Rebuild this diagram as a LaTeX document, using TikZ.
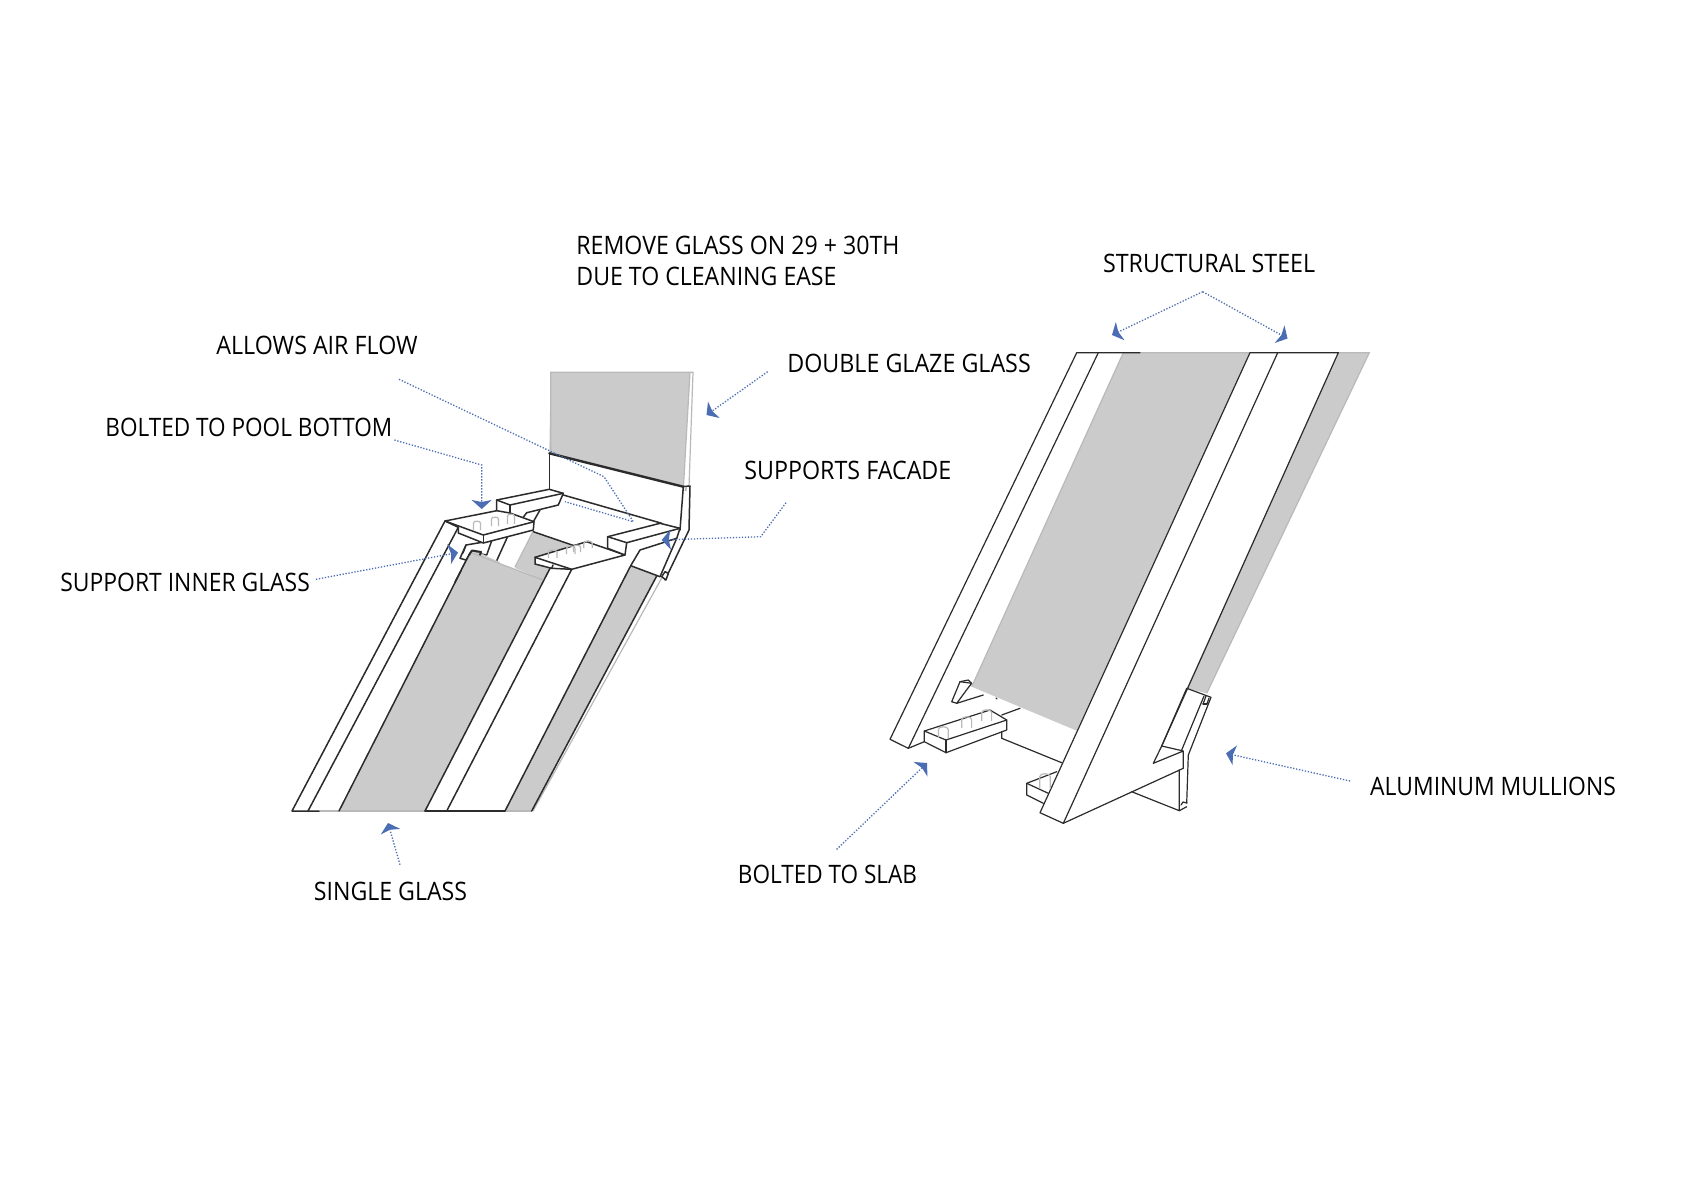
\documentclass[tikz,border=0pt]{standalone}
\usepackage{fontspec}
\usepackage{graphicx}
\setmainfont{Open Sans}[FakeStretch=0.925]
\usetikzlibrary{arrows.meta}
\definecolor{ink}{HTML}{2B2B2B}
\definecolor{glass}{HTML}{CCCBCB}
\definecolor{edge}{HTML}{B9B9B9}
\definecolor{lead}{HTML}{4A6DB3}
\tikzset{
  lab/.style={anchor=base west,inner sep=0pt,font=\fontsize{12.7}{14}\selectfont,text=black},
  ln/.style={draw=ink,line width=0.75pt,line join=round,line cap=round},
  lnr/.style={draw=ink,line width=0.6pt,line join=round,line cap=round},
  blk/.style={ln,fill=white},
  blkr/.style={lnr,fill=white},
  gl/.style={fill=glass,draw=none},
  lite/.style={draw=edge,line width=0.6pt},
  pegl/.style={draw=edge,line width=0.6pt},
  leader/.style={draw=lead,line width=0.65pt,dash pattern=on 0.65pt off 0.85pt,
    -{Stealth[length=4.5pt,width=10pt,inset=1pt,fill=lead,sep=0pt]}},
  leaderplain/.style={draw=lead,line width=0.65pt,dash pattern=on 0.65pt off 0.85pt},
}
\newcommand{\pegat}[4][1]{\draw[pegl,shift={(#2,#3)},scale=#1] (-3.5,#4) -- (-3.5,1) .. controls (-3.5,-1.5) and (3.5,-1.5) .. (3.5,1) -- (3.5,#4);}
\newcommand{\sx}[2]{\scalebox{#1}[1]{#2}}
\begin{document}
\begin{tikzpicture}[x=0.5pt,y=-0.5pt]
\path[fill=white] (0,0) rectangle (1697,1200);
\useasboundingbox (0,0) rectangle (1697,1200);

%%% LEFT DIAGRAM
% glass
\path[gl] (339,811) -- (425,811) -- (543,580) -- (471.7,553) -- (469,555) -- cycle;
\path[gl] (505,811) -- (531.7,811) -- (656.7,576) -- (630,566) -- cycle;
\path[gl] (515,568) -- (533.3,531.7) -- (575,546) -- (535,557) -- (535,564) -- (551.7,568) -- (543,580) -- cycle;
\path[gl] (550.7,372.3) -- (690,372.3) -- (683.3,486.7) -- (549.3,453.3) -- cycle;
% light glass edges
\draw[lite] (550.7,453) -- (550.7,372.3) -- (693,372.3) -- (689,487);
\draw[lite] (690,372.3) -- (683.5,486);
\draw[lite] (533,811) -- (661.7,578);
\draw[lite] (319,811) -- (339,811);
\draw[lite] (515,567) -- (533.3,531);
\draw[lite] (425,811) -- (339,811);
\draw[lite] (505,811) -- (531.7,811);
% long members
\draw[ln] (319,811) -- (292,811) -- (445,521);
\draw[ln] (308,811) -- (458.3,527.3);
\draw[ln] (339,811) -- (469,555);
\draw[ln] (425,811) -- (551.7,565);
\draw[ln] (505,811) -- (425,811);
\draw[ln] (446.7,811) -- (571.7,569.3);
\draw[ln] (505,811) -- (630.7,565.7);
\draw[ln] (531.7,811) -- (656.7,576);
\draw[ln] (496.7,560.7) -- (508.3,535);
% back wall
\draw[ln,line width=1.2pt] (549.3,453.3) -- (683.3,486.7);
\draw[ln] (549.3,453.3) -- (549.3,489.3);
\draw[ln] (563.3,495) -- (661.7,523.3);
\draw[ln] (683.3,486.7) -- (680,530);
\draw[ln] (683.5,486.5) -- (690,486) -- (689,530) -- (665,580);
\draw[lite,line width=1pt] (686,487) -- (685.5,491);
% dark line behind plates
\draw[ln] (533.3,531.7) -- (575,546);
% upper left block
\draw[blk] (496.7,510.7) -- (496.7,500) -- (549.3,489.3) -- (563.3,493.3) -- (558.3,505) -- (526.7,512.7) -- (520.7,520.7);
\draw[ln] (496.7,500) -- (510,505) -- (563.3,493.3);
\draw[ln] (510,505) -- (510,514);
\draw[ln] (540,510) -- (533.3,521.7);
% left clip
\draw[blk] (460,558.3) -- (466,545) -- (491.7,540.7) -- (486.7,555) -- (471,552) -- (466,560) -- cycle;
\draw[ln] (466,545) -- (463,553);
\path[gl] (469,555) -- (473,551.5) -- (483,554) -- (486,556) -- (500,562) -- (480,590) -- (462,570) -- cycle;
\draw[ln,line width=1pt] (469,555) -- (472,550.5) -- (481,552) -- (480,555);
\draw[lite] (471.7,553) -- (543,580);
\draw[ln] (469,555) -- (455,582);
% left plate
\draw[blk] (458.3,527.3) -- (458.3,533) -- (483.3,543) -- (533.3,530) -- (534,521.7) -- (510,513) -- (496.7,510.7) -- (445,521) -- cycle;
\draw[ln] (445,521) -- (483.3,535) -- (534,521.7);
\draw[ln] (483.3,535) -- (483.3,543);
\pegat{477}{522}{8}
\pegat{495}{518}{8}
\pegat{511}{515}{9}
% right lower plate
\draw[blk] (535,557.3) -- (586.7,541.7) -- (625,555) -- (571.7,569.3) -- (551.7,568.3) -- (535,564) -- cycle;
\draw[ln] (535,557.3) -- (571.7,569.3);
\draw[ln] (551.7,568.3) -- (553,565);
\pegat[1.2]{552.7}{551}{6}
\pegat[1.2]{570.7}{547}{6}
\pegat{577}{546}{6}
\pegat[1.2]{588}{542}{5}
% right upper block
\path[fill=white] (607.7,536.7) -- (660,523.3) -- (680,528.3) -- (676.7,538.3) -- (640,550) -- (630,566.7) -- (625,555) -- (607.7,548.3) -- cycle;
\draw[ln] (625,555) -- (607.7,548.3) -- (607.7,536.7) -- (660,523.3) -- (680,528.3) -- (676.7,538.3) -- (640,550) -- (630.7,565.7);
\draw[ln] (607.7,536.7) -- (626.7,542.7) -- (680,528.3);
\draw[ln] (626.7,542.7) -- (625,555);
% clip lower right
\draw[ln] (630.7,565.7) -- (660,576.7);
\draw[ln] (676.7,538.3) -- (660,576.7);
\draw[blk] (661.7,576.7) -- (665,571.7) -- (668.3,573.3) -- (666,580) -- cycle;

%%% RIGHT DIAGRAM
\path[gl] (1123.3,352.7) -- (1250,352.7) -- (1076.7,730.7) -- (971.7,686.7) -- cycle;
\path[gl] (1338.3,352.7) -- (1369.3,352.7) -- (1206.7,693.3) -- (1186.7,688.3) -- cycle;
\draw[lite] (971.7,686.7) -- (1123.3,352.7) -- (1250,352.7);
\draw[lite] (1338.3,352.7) -- (1369.3,352.7) -- (1206.7,693.3);
\draw[lnr] (1140,352.7) -- (1076.7,352.7) -- (890,739.3) -- (908.3,748.3);
\draw[lnr] (1098.3,352.7) -- (908.3,748.3);
\draw[lnr] (1338.3,352.7) -- (1250,352.7) -- (1040,812.7) -- (1063.3,823.3);
\draw[lnr] (1277.7,352.7) -- (1063.3,823.3);
\draw[lnr] (1338.3,352.7) -- (1161.7,746);
% small bracket
\draw[blkr] (951.7,701.7) -- (960,681.7) -- (968.3,680) -- (971.7,683.3) -- (968,688) -- (956.7,703.3) -- cycle;
\draw[lnr] (960,681.7) -- (971.7,683.3);
\draw[lnr] (956.7,703.3) -- (983.3,695);
\draw[lnr] (1001.7,715) -- (1020,708.3);
\draw[lnr] (996,698) -- (997,699);
% block with pegs
\draw[blkr] (924.3,731) -- (990,710) -- (1006.7,720) -- (1006.7,730) -- (946,752.7) -- (924.3,741.7) -- cycle;
\draw[lnr] (924.3,731) -- (946,740) -- (1006.7,720);
\draw[lnr] (946,740) -- (946,752.7);
\draw[lnr] (924.3,741.7) -- (908.3,748.3);
\draw[lnr] (1001.7,731.7) -- (1001.7,738.3) -- (1061.7,762.7);
\pegat[1.4]{943.3}{728}{7}
\pegat[1.4]{966.7}{718}{7}
\pegat[1.4]{986.7}{711}{7}
% lower block
\draw[lnr] (1056.7,771.7) -- (1026.7,783.3) -- (1026.7,795) -- (1043.3,803.3);
\draw[lnr] (1026.7,783.3) -- (1048.3,793.3);
\pegat[1.5]{1045}{775}{9}
% mullion
\draw[lnr] (1063.3,823.3) -- (1183.3,768.3) -- (1183.3,751) -- (1153.3,763.3) -- (1161.7,746) -- (1183.3,751);
\draw[lnr] (1161.7,746) -- (1186.7,688.3) -- (1211,697.3) -- (1188.3,755) -- (1186.7,803);
\draw[lnr] (1204,696) -- (1181.7,750);
\draw[lnr] (1179.3,770) -- (1179.3,810.7) -- (1131.7,791.7);
\draw[lnr] (1179.3,810.7) -- (1186.7,806.7);
\draw[lnr] (1181,805) -- (1183,802) -- (1187,803);
\draw[lnr] (1203,704) -- (1206,696);
\draw[lnr] (1207,704) -- (1209,698);
\draw[lnr] (1203,704) -- (1207,704);

%%% LABELS
\node[lab] (remove) at (576,254) {\sx{0.985}{REMOVE GLASS ON 29 + 30TH}};
\node[lab] (due) at (576,285) {\sx{0.984}{DUE TO CLEANING EASE}};
\node[lab] (air) at (216,354.5) {\sx{0.99}{ALLOWS AIR FLOW}};
\node[lab] (pool) at (105,436.5) {\sx{0.96}{BOLTED TO POOL BOTTOM}};
\node[lab] (dgg) at (787,372.5) {\sx{0.99}{DOUBLE GLAZE GLASS}};
\node[lab] (fac) at (744,479) {\sx{0.99}{SUPPORTS FACADE}};
\node[lab] (sig) at (60,591.7) {\sx{0.975}{SUPPORT INNER GLASS}};
\node[lab] (sng) at (313.5,900.5) {\sx{0.985}{SINGLE GLASS}};
\node[lab] (slab) at (737.5,883) {\sx{0.96}{BOLTED TO SLAB}};
\node[lab] (steel) at (1102.6,272.5) {\sx{0.99}{STRUCTURAL STEEL}};
\node[lab] (alu) at (1369.8,795.5) {\sx{0.975}{ALUMINUM MULLIONS}};

%%% LEADERS
\coordinate (airA) at (399,379.3);
\coordinate (airB) at (604,476.7);
\coordinate (airC) at (633.3,521.7);
\coordinate (airD) at (565,501.7);
\draw[leaderplain] (airA) -- (airB) -- (airC) -- (airD);
\coordinate (poolA) at (394.4,440);
\coordinate (poolB) at (481.7,465);
\coordinate (poolC) at (481.7,509);
\draw[leader] (poolA) -- (poolB) -- (poolC);
\coordinate (sigA) at (316,579.3);
\coordinate (sigB) at (458,552.5);
\draw[leader] (sigA) -- (sigB);
\coordinate (dggA) at (767.6,371.7);
\coordinate (dggB) at (706.5,415);
\draw[leader] (dggA) -- (dggB);
\coordinate (facA) at (786,502.7);
\coordinate (facB) at (760.7,536.7);
\coordinate (facC) at (661.7,540);
\draw[leader] (facA) -- (facB) -- (facC);
\coordinate (sngA) at (400,864.7);
\coordinate (sngB) at (388,823);
\draw[leader] (sngA) -- (sngB);
\coordinate (stA) at (1202.7,291.7);
\coordinate (stL) at (1112,335);
\coordinate (stR) at (1287.5,338.5);
\draw[leader] (stA) -- (stL);
\draw[leader] (stA) -- (stR);
\coordinate (slA) at (836.6,849.4);
\coordinate (slB) at (927,763);
\draw[leader] (slA) -- (slB);
\coordinate (alA) at (1350,781);
\coordinate (alB) at (1226,753.3);
\draw[leader] (alA) -- (alB);
\end{tikzpicture}
\end{document}
